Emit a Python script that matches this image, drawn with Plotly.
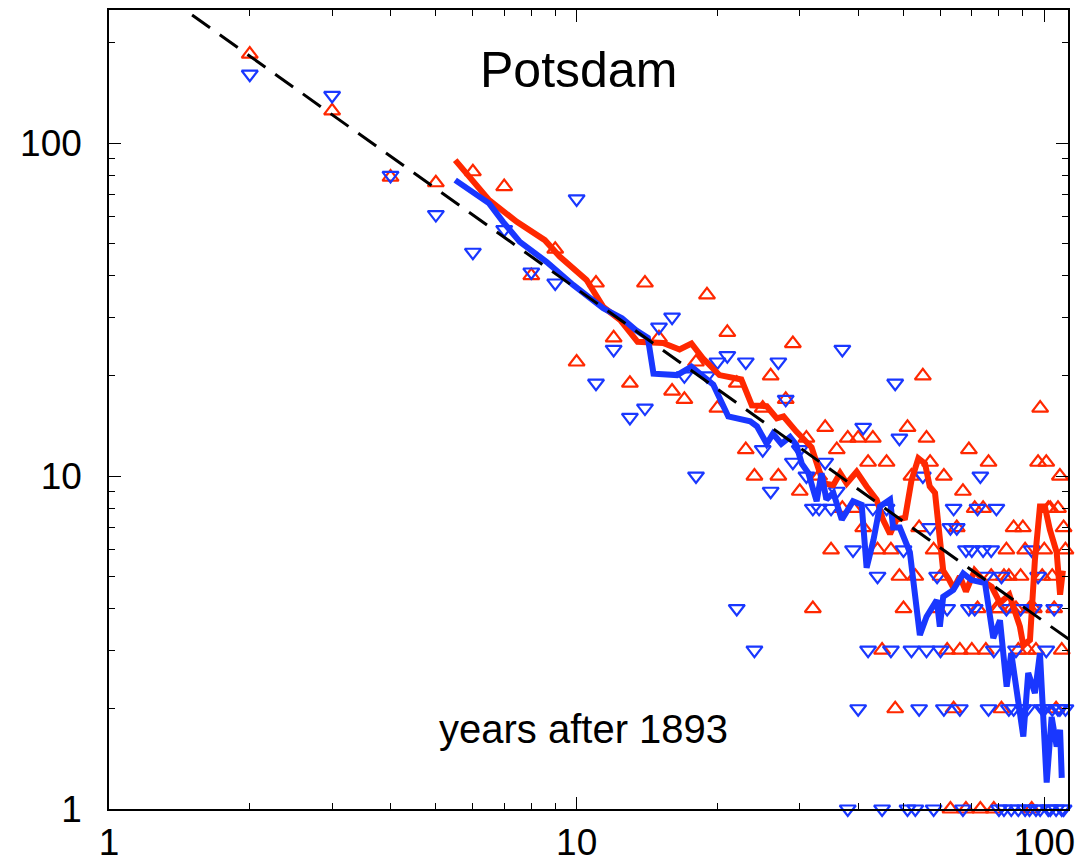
import numpy as np
import plotly.graph_objects as go

# Years after 1893
years = list(range(2, 112))

# Number of daily heat records (red, up-triangles) per year
red_records = [
    185, 125, 79, 76, 82, 74, 40, 48, 22,            # 2-10
    38, 26, 19, 38, 26, 18, 17, 22, 35, 16,          # 11-20
    27, 19, 12, 10, 16, 20, 10, 17, 25, 9,           # 21-30
    13, 4, 10, 14, 6, 12, 8, 13, 8, 13,              # 31-40
    7, 11, 13, 6, 3, 11, 6, 2, 5, 4,                 # 41-50
    14, 10, 5, 7, 20, 13, 11, 6, 4, 5,               # 51-60
    10, 3, 1, 2, 7, 3, 9, 1, 12, 3,                  # 61-70
    8, 4, 1, 8, 3, 11, 5, 1, 4, 4,                   # 71-80
    2, 5, 6, 5, 4, 7, 4, 3, 5, 7,                    # 81-90
    6, 3, 4, 1, 4, 3, 11, 16, 5, 6,                  # 91-100
    11, 8, 8, 5, 4, 2, 8, 10, 3, 7, 6,               # 101-111
]

# Number of daily cold records (blue, down-triangles) per year
blue_records = [
    161, 139, 80, 61, 47, 55, 41, 38, 68,            # 2-10
    19, 24, 15, 16, 28, 30, 20, 10, 20, 22,          # 11-20
    23, 4, 22, 3, 12, 9, 22, 17, 11, 12,             # 21-30
    10, 8, 8, 11, 8, 9, 24, 1, 6, 2,                 # 31-40
    14, 3, 8, 5, 1, 8, 3, 19, 13, 6,                 # 41-50
    1, 3, 1, 2, 10, 3, 7, 1, 5, 3,                   # 51-60
    2, 4, 7, 8, 7, 2, 1, 6, 4, 6,                    # 61-70
    4, 8, 10, 6, 5, 2, 6, 3, 8, 1,                   # 71-80
    5, 1, 4, 2, 1, 2, 3, 1, 4, 2,                    # 81-90
    1, 2, 1, 6, 4, 1, 5, 1, 2, 2,                    # 91-100
    3, 1, 1, 2, 4, 1, 2, 2, 1, 1, 2,                 # 101-111
]

# Running means
red_avg_x = [5.5, 6.5, 7.45, 8.55, 9.2, 10.5, 11.4, 12.4, 13.5, 15.3, 16.6, 17.6,
             18.6, 20.2, 22.5, 23.7, 25.5, 26.8, 27.7, 29.5, 31.8, 32.9, 33.7,
             35.4, 36.6, 37.8, 39.7, 41.7, 43.8, 45.2, 46.8, 48.3, 50.4, 52.0,
             53.8, 55.6, 56.9, 58.4, 59.8, 60.8, 62.5, 64.0, 66.0, 68.0, 71.0,
             74.6, 77.2, 80.4, 84.2, 86.0, 88.7, 90.2, 93.2, 95.5, 97.9, 100.3,
             102.8, 106.3, 108.1, 109.6]
red_avg_y = [88.9, 67.4, 58.0, 51.1, 45.6, 38.8, 32.2, 29.4, 25.3, 25.1, 24.0, 25.0,
             22.6, 20.1, 19.5, 16.3, 16.2, 14.9, 15.1, 13.6, 12.2, 10.7, 9.5,
             9.4, 10.2, 9.5, 10.3, 9.3, 8.5, 7.4, 6.7, 7.4, 7.5, 9.7,
             11.3, 10.9, 9.3, 8.9, 6.1, 5.2, 4.9, 4.6, 5.0, 4.5, 5.2,
             4.8, 4.65, 4.16, 4.4, 4.0, 3.53, 3.1, 3.22, 5.6, 8.1, 8.1,
             6.9, 5.9, 4.4, 5.2]

blue_avg_x = [5.5, 6.5, 6.96, 7.56, 8.62, 9.83, 11.4, 12.5, 13.4, 14.2, 14.6, 16.4,
              17.6, 19.6, 21.1, 23.5, 24.3, 25.5, 26.3, 27.4, 28.6, 29.5, 30.3,
              31.3, 32.6, 33.4, 34.2, 35.4, 36.9, 39.0, 40.7, 41.7, 43.1, 44.5,
              46.8, 47.5, 49.1, 51.6, 54.2, 56.0, 58.9, 59.8, 60.8, 63.9, 67.1,
              69.9, 74.7, 77.8, 80.4, 83.1, 85.0, 90.2, 92.4, 95.5, 97.9, 101.2,
              103.7, 106.3, 108.1, 109.0]
blue_avg_y = [77.4, 65.9, 58.0, 50.5, 44.0, 37.5, 31.9, 29.8, 27.4, 26.0, 20.3, 20.1,
              21.3, 18.8, 15.1, 14.6, 14.1, 12.5, 13.4, 12.5, 13.1, 12.4, 10.9,
              10.2, 8.4, 10.2, 8.5, 8.9, 7.4, 8.4, 8.2, 5.3, 6.4, 8.1,
              8.5, 7.0, 7.0, 5.9, 3.33, 3.78, 4.24, 3.53, 4.34, 4.55, 5.1,
              4.87, 4.77, 3.26, 3.69, 2.33, 2.94, 1.65, 2.56, 2.23, 2.94, 1.2,
              1.89, 1.54, 1.73, 1.24]

# Expected number of records: 365 / n
fit_days = 365.0
fit_x = np.logspace(0, np.log10(115), 200)
fit_y = fit_days / fit_x

tick_vals = [1, 10, 100]
tick_text = ["1", "10", "100"]

RED = "rgb(255,40,0)"
BLUE = "rgb(25,55,255)"
FONT = "Liberation Sans, Arial, Helvetica, sans-serif"

fig = go.Figure()
fig.add_trace(go.Scatter(x=years, y=red_records, mode="markers", cliponaxis=False,
                         marker=dict(symbol="triangle-up-open", size=14,
                                     color=RED, line=dict(width=2.2, color=RED)),
                         showlegend=False))
fig.add_trace(go.Scatter(x=years, y=blue_records, mode="markers", cliponaxis=False,
                         marker=dict(symbol="triangle-down-open", size=14,
                                     color=BLUE, line=dict(width=2.2, color=BLUE)),
                         showlegend=False))
fig.add_trace(go.Scatter(x=red_avg_x, y=red_avg_y, mode="lines",
                         line=dict(color=RED, width=6), showlegend=False))
fig.add_trace(go.Scatter(x=blue_avg_x, y=blue_avg_y, mode="lines",
                         line=dict(color=BLUE, width=6), showlegend=False))
fig.add_trace(go.Scatter(x=fit_x, y=fit_y, mode="lines",
                         line=dict(color="black", width=3, dash="22px,12px"),
                         showlegend=False))

axis_common = dict(
    type="log", automargin=False,
    showgrid=False, zeroline=False,
    showline=True, linecolor="black", linewidth=1.5, mirror="ticks",
    ticks="inside", ticklen=12, tickwidth=1.2, tickcolor="black",
    tickvals=tick_vals, ticktext=tick_text,
    tickfont=dict(family=FONT, size=37, color="black"),
    minor=dict(ticks="inside", ticklen=6, tickwidth=1, tickcolor="black",
               dtick="D1", showgrid=False),
)
fig.update_xaxes(**axis_common, range=[0, np.log10(112.4)], ticklabelstandoff=0)
fig.update_yaxes(**axis_common, range=[0, np.log10(251)], ticklabelstandoff=18)

fig.add_annotation(text="Potsdam", x=0.49, y=0.925, xref="paper", yref="paper",
                   xanchor="center", yanchor="middle",
                   showarrow=False, font=dict(family=FONT, size=50, color="black"))
fig.add_annotation(text="years after 1893", x=0.495, y=0.10, xref="paper", yref="paper",
                   xanchor="center", yanchor="middle",
                   showarrow=False, font=dict(family=FONT, size=40, color="black"))

fig.update_layout(width=1083, height=864, plot_bgcolor="white", paper_bgcolor="white",
                  margin=dict(l=109, r=15, t=10, b=55))
fig.write_html("out.html")
